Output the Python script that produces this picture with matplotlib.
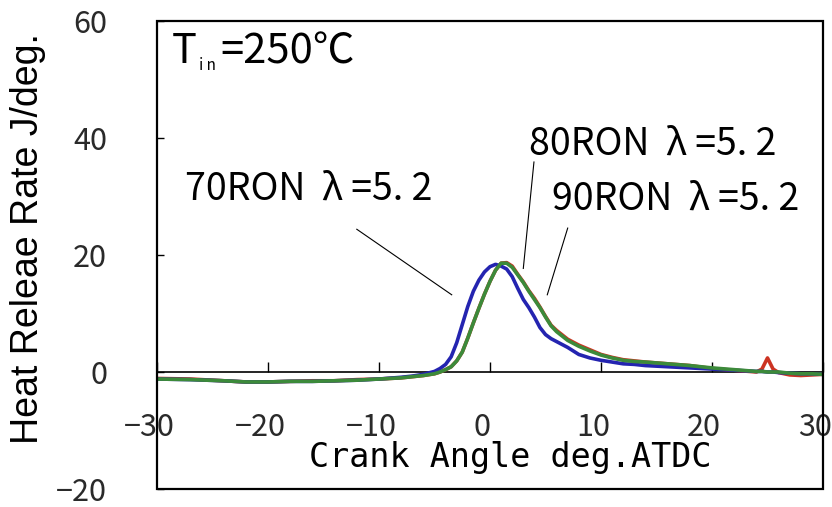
import matplotlib
matplotlib.use("Agg")
import matplotlib.pyplot as plt
from matplotlib.patches import Rectangle
from matplotlib.transforms import ScaledTranslation

plt.rcParams['font.family'] = ['Liberation Sans Narrow', 'Noto Sans CJK JP', 'DejaVu Sans']

# Crank angle grid (deg. ATDC)
crank_angle = [-30, -27, -24, -22, -20, -18, -16, -14, -12, -10, -8, -7, -6, -5,
               -4.5, -4, -3.5, -3, -2.5, -2, -1.5, -1, -0.5, 0, 0.5, 1, 1.5, 2,
               2.5, 3, 3.5, 4, 4.5, 5, 5.5, 6, 7, 8, 9, 10, 11, 12, 13, 14, 16,
               18, 20, 22, 24, 24.5, 25, 25.5, 26, 27, 28, 29, 30]

# Heat release rate (J/deg.)
hrr_70ron = [-1.2, -1.3, -1.5, -1.7, -1.7, -1.6, -1.6, -1.5, -1.4, -1.2, -0.9, -0.7, -0.4, 0.1,
             0.6, 1.3, 2.6, 5.0, 8.1, 11.2, 13.8, 15.7, 17.1, 18.0, 18.4, 18.1, 17.6, 16.3,
             14.3, 12.4, 11.0, 9.4, 7.6, 6.4, 5.7, 5.2, 4.2, 3.0, 2.4, 2.0, 1.7, 1.4, 1.3, 1.1, 0.9,
             0.7, 0.5, 0.3, 0.1, 0.1, 0.0, 0.0, -0.1, -0.2, -0.3, -0.3, -0.4]

hrr_80ron = [-1.1, -1.2, -1.5, -1.7, -1.7, -1.6, -1.5, -1.5, -1.3, -1.2, -1.0, -0.8, -0.6, -0.3,
             0.0, 0.4, 0.9, 1.9, 3.4, 5.8, 8.4, 10.9, 13.3, 15.5, 17.4, 18.6, 18.7, 18.1,
             16.7, 15.4, 13.9, 12.6, 11.1, 9.5, 8.0, 7.1, 5.6, 4.6, 3.8, 3.0, 2.5, 2.1, 1.9, 1.7, 1.4,
             1.1, 0.6, 0.3, 0.0, 0.5, 2.4, 0.5, -0.1, -0.5, -0.6, -0.5, -0.4]

hrr_90ron = [-1.2, -1.3, -1.5, -1.7, -1.7, -1.6, -1.6, -1.5, -1.4, -1.2, -1.0, -0.8, -0.6, -0.3,
             0.0, 0.4, 0.9, 1.9, 3.4, 5.8, 8.4, 10.9, 13.3, 15.5, 17.4, 18.6, 18.6, 17.9,
             16.6, 15.3, 13.8, 12.4, 11.0, 9.4, 7.9, 6.9, 5.4, 4.4, 3.6, 2.9, 2.4, 2.0, 1.8, 1.7, 1.4,
             1.1, 0.7, 0.4, 0.1, 0.1, 0.0, 0.0, 0.0, -0.2, -0.3, -0.3, -0.4]

x_ticks = [-30, -20, -10, 0, 10, 20, 30]
y_ticks = [-20, 0, 20, 40, 60]

series_labels = ['70RON  λ =5. 2', '80RON  λ =5. 2', '90RON  λ =5. 2']

W, H = 832, 507
fig = plt.figure(figsize=(W / 100, H / 100), dpi=100)
ax = fig.add_axes([157 / W, 1 - 489 / H, (823 - 157) / W, (489 - 21) / H])

ax.plot(crank_angle, hrr_80ron, color='#cc3322', lw=2.6, zorder=3)
ax.plot(crank_angle, hrr_70ron, color='#2424b0', lw=2.6, zorder=4)
ax.plot(crank_angle, hrr_90ron, color='#3c8a3a', lw=2.6, zorder=5)

ax.set_xlim(-30, 30)
ax.set_ylim(-20, 60)
ax.set_xticks(x_ticks)
ax.set_yticks(y_ticks)

# bottom axis line runs through zero, the box is drawn separately
ax.spines['bottom'].set_position(('data', 0))
for s in ax.spines.values():
    s.set_linewidth(1.3)
ax.spines['bottom'].set_linewidth(1.2)
ax.add_patch(Rectangle((0, 0), 1, 1, transform=ax.transAxes, fill=False,
                       edgecolor='black', lw=1.6, clip_on=False, zorder=6))

ax.tick_params(axis='x', direction='in', length=7, width=1.0, pad=29,
               labelsize=22, labelcolor='#2a2a2a')
ax.tick_params(axis='y', direction='in', length=5, width=1.0, pad=36,
               labelsize=22, labelcolor='#2a2a2a')
shift = ScaledTranslation(-8 / 100, 0, fig.dpi_scale_trans)
for lbl in ax.get_xticklabels():
    lbl.set_transform(lbl.get_transform() + shift)

# axis titles
fig.text(28 / W, 1 - 239 / H, 'Heat Releae Rate J/deg.', rotation=90,
         ha='center', va='center', fontsize=27,
         family=['Liberation Sans', 'DejaVu Sans'])
fig.text(510 / W, 1 - 458 / H, 'Crank Angle deg.ATDC', ha='center', va='center',
         fontsize=24, family=['DejaVu Sans Mono'])

# inlet temperature
fig.text(172 / W, 1 - 63 / H, 'T', fontsize=30, va='baseline', ha='left')
fig.text(199 / W, 1 - 70 / H, 'i n', fontsize=11, va='baseline', ha='left')
fig.text(220 / W, 1 - 63 / H, '=250℃', fontsize=30, va='baseline', ha='left')

# series labels with leader lines
ax.text(-27.5, 29.4, series_labels[0], fontsize=27, va='baseline', ha='left')
ax.text(3.5, 37.1, series_labels[1], fontsize=27, va='baseline', ha='left')
ax.text(5.6, 27.7, series_labels[2], fontsize=27, va='baseline', ha='left')
ax.plot([-12.0, -3.45], [24.4, 13.2], color='black', lw=0.8, zorder=2)
ax.plot([3.96, 3.0], [35.9, 17.7], color='black', lw=0.8, zorder=2)
ax.plot([7.0, 5.16], [24.6, 13.2], color='black', lw=0.8, zorder=2)

fig.savefig('out.png', dpi=100)
